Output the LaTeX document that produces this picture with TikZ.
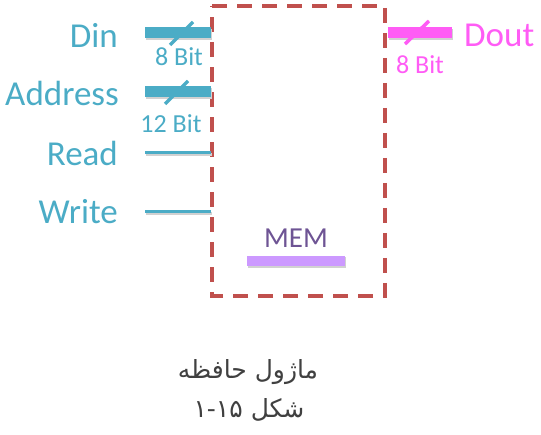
\documentclass[tikz,border=0pt]{standalone}
\usepackage{fontspec}
\setmainfont{Carlito}
\newfontfamily\arabicfont[Script=Arabic]{DejaVu Sans}
\TeXXeTstate=1
\definecolor{teal}{HTML}{4BACC6}
\definecolor{magent}{HTML}{FF5CF5}
\definecolor{boxred}{HTML}{C0504D}
\definecolor{memtxt}{HTML}{6E5494}
\definecolor{membar}{HTML}{CC99FF}
\definecolor{captxt}{HTML}{404040}
\begin{document}
\begin{tikzpicture}[x=1pt,y=-1pt,
  lbl/.style={font=\fontsize{35}{35}\selectfont, inner sep=0pt},
  bitlbl/.style={font=\fontsize{26}{26}\selectfont, inner sep=0pt},
  bus/.style={line width=11pt},
  sig/.style={line width=3pt},
  slash/.style={line width=3.5pt},
  shad/.style={draw=black!18, line width=11pt}]
\useasboundingbox (0,0) rectangle (541,435);
% memory box
\draw[boxred, line width=3.5pt, dash pattern=on 15pt off 10pt] (212,6) -- (385,6) -- (385,296) -- (212,296) -- cycle;
% coordinates
\coordinate (dinA) at (145,33); \coordinate (dinB) at (211,33);
\coordinate (adrA) at (145,92); \coordinate (adrB) at (211,92);
\coordinate (rdA) at (145,153); \coordinate (rdB) at (211,153);
\coordinate (wrA) at (145,212); \coordinate (wrB) at (211,212);
\coordinate (doA) at (388,33); \coordinate (doB) at (452,33);
\coordinate (memA) at (247,261); \coordinate (memB) at (345,261);
% shadows
\draw[shad] ([shift={(1,2)}]dinA) -- ([shift={(1,2)}]dinB);
\draw[shad] ([shift={(1,2)}]adrA) -- ([shift={(1,2)}]adrB);
\draw[shad, line width=3pt] ([shift={(1,2)}]rdA) -- ([shift={(1,2)}]rdB);
\draw[shad, line width=3pt] ([shift={(1,2)}]wrA) -- ([shift={(1,2)}]wrB);
\draw[shad] ([shift={(1,2)}]doA) -- ([shift={(1,2)}]doB);
\draw[shad] ([shift={(1,2)}]memA) -- ([shift={(1,2)}]memB);
% lines
\draw[teal, bus] (dinA) -- (dinB);
\draw[teal, bus] (adrA) -- (adrB);
\draw[teal, sig] (rdA) -- (rdB);
\draw[teal, sig] (wrA) -- (wrB);
\draw[magent, bus] (doA) -- (doB);
\draw[membar, line width=10pt] (memA) -- (memB);
% slashes
\coordinate (s1a) at (170,45); \coordinate (s1b) at (193,22);
\coordinate (s2a) at (165,104); \coordinate (s2b) at (188,81);
\coordinate (s3a) at (405,44); \coordinate (s3b) at (429,21);
\draw[teal, slash] (s1a) -- (s1b);
\draw[teal, slash] (s2a) -- (s2b);
\draw[magent, slash] (s3a) -- (s3b);
% labels
\node[lbl, teal, anchor=east] (din) at (118,35) {Din};
\node[lbl, teal, anchor=east] (adr) at (119,93) {Address};
\node[lbl, teal, anchor=east] (rd) at (118,153) {Read};
\node[lbl, teal, anchor=east] (wr) at (118,212) {Write};
\node[lbl, magent, anchor=west] (dout) at (464,35) {Dout};
\node[bitlbl, teal] (b1) at (179,57) {8 Bit};
\node[bitlbl, teal] (b2) at (171,124) {12 Bit};
\node[bitlbl, magent] (b3) at (420,65) {8 Bit};
\node[font=\fontsize{29}{29}\selectfont, memtxt, inner sep=0pt] (mem) at (296,238) {MEM};
% caption
\node[font=\arabicfont\fontsize{25}{25}\selectfont, captxt, inner sep=0pt] (cap1) at (248,372) {\beginR ماژول حافظه\endR};
\node[font=\arabicfont\fontsize{25}{25}\selectfont, captxt, inner sep=0pt] (cap2) at (249,410) {\beginR شکل \beginL ۱-۱۵\endL\endR};
\end{tikzpicture}
\end{document}
